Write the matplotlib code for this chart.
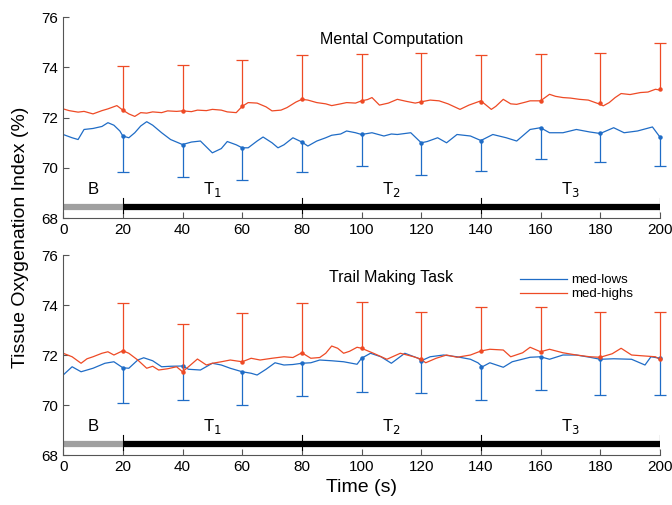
import numpy as np
import matplotlib
matplotlib.use('Agg')
import matplotlib.pyplot as plt

plt.rcParams['font.family'] = ['Liberation Sans', 'DejaVu Sans']

# ---- data ----
# error bar sample times
t_err = [20, 40, 60, 80, 100, 120, 140, 160, 180, 200]

# Mental Computation
mc_high_mean = [72.30, 72.27, 72.45, 72.73, 72.67, 72.63, 72.63, 72.67, 72.57, 73.13]
mc_high_top = [74.04, 74.08, 74.29, 74.51, 74.53, 74.57, 74.49, 74.53, 74.57, 74.96]
mc_low_mean = [71.27, 70.93, 70.80, 71.03, 71.33, 71.00, 71.09, 71.60, 71.37, 71.23]
mc_low_bot = [69.84, 69.63, 69.52, 69.84, 70.07, 69.70, 69.86, 70.36, 70.23, 70.07]

mc_high_t = [0, 2, 5, 7, 10, 13, 15, 18, 20, 22, 24, 26, 28, 30, 33, 35, 38, 40, 43, 45,
             48, 50, 53, 55, 58, 60, 62, 65, 68, 70, 73, 75, 78, 80, 82, 85, 88, 90, 93, 95,
             98, 100, 102, 103.5, 106, 109, 112, 115, 118, 120, 123, 126, 129, 133, 136, 140,
             143.5, 145, 147.5, 150, 152, 155, 156.5, 160, 163, 165, 167.5, 170, 173, 176, 180,
             181, 183, 185, 187, 190, 193.5, 196, 198.5, 200]
mc_high_v = [72.35, 72.28, 72.22, 72.25, 72.15, 72.28, 72.35, 72.48, 72.30, 72.15, 72.05, 72.20,
             72.18, 72.23, 72.20, 72.27, 72.25, 72.27, 72.24, 72.30, 72.28, 72.33, 72.30, 72.23,
             72.20, 72.45, 72.60, 72.58, 72.43, 72.27, 72.30, 72.40, 72.62, 72.73, 72.70, 72.60,
             72.55, 72.48, 72.55, 72.60, 72.58, 72.67, 72.72, 72.80, 72.50, 72.58, 72.73, 72.65,
             72.58, 72.63, 72.70, 72.67, 72.55, 72.33, 72.50, 72.67, 72.33, 72.45, 72.73, 72.55,
             72.53, 72.62, 72.67, 72.67, 72.93, 72.85, 72.80, 72.78, 72.73, 72.70, 72.53, 72.47,
             72.60, 72.80, 72.96, 72.92, 73.00, 73.02, 73.13, 73.10]

mc_low_t = [0, 3, 5, 7, 10, 13, 15, 17, 19, 20, 22, 24, 26, 28, 30, 33, 36, 40, 43, 46, 50,
            53, 55, 58, 60, 62, 65, 67, 70, 72, 74, 77, 80, 82, 85, 88, 90, 93, 95, 98, 100,
            103.5, 107.5, 110, 112, 116.5, 120, 122, 125.5, 128.5, 132, 136.5, 140, 144, 148.5,
            152, 156.5, 160, 163, 167.5, 172, 176.5, 180, 184.5, 188, 192.5, 197.5, 200]
mc_low_v = [71.33, 71.20, 71.13, 71.53, 71.57, 71.65, 71.80, 71.70, 71.47, 71.27, 71.20, 71.40,
            71.67, 71.84, 71.70, 71.40, 71.13, 70.93, 71.03, 71.07, 70.60, 70.77, 71.05, 70.92,
            70.80, 70.80, 71.07, 71.23, 71.00, 70.80, 70.92, 71.20, 71.03, 70.87, 71.07, 71.20,
            71.30, 71.35, 71.47, 71.40, 71.33, 71.40, 71.27, 71.35, 71.33, 71.40, 71.00, 71.05,
            71.20, 71.00, 71.33, 71.27, 71.09, 71.33, 71.20, 71.07, 71.53, 71.60, 71.40, 71.40,
            71.53, 71.43, 71.37, 71.60, 71.40, 71.47, 71.63, 71.23]

# Trail Making Task
tm_high_mean = [72.17, 71.33, 71.73, 72.09, 72.27, 71.83, 72.16, 72.13, 71.91, 71.83]
tm_high_top = [74.07, 73.23, 73.67, 74.07, 74.12, 73.73, 73.93, 73.93, 73.73, 73.71]
tm_low_mean = [71.49, 71.56, 71.33, 71.67, 71.87, 71.77, 71.53, 71.93, 71.83, 71.87]
tm_low_bot = [70.09, 70.20, 70.00, 70.36, 70.53, 70.47, 70.20, 70.60, 70.39, 70.41]

tm_high_t = [0, 3, 6, 8, 10, 13, 15, 17, 20, 22, 25, 28, 30, 32, 35, 38, 40, 42, 45, 48, 50,
             53, 56, 60, 63, 66, 70, 74, 77, 80, 83, 86, 88, 90, 92, 94, 96, 98.5, 100, 104,
             108.5, 113, 117.5, 120, 121.5, 125, 128.5, 132, 136.5, 140, 143, 147.5, 150, 154,
             156.5, 160, 163, 167.5, 172, 176.5, 180, 184, 187, 190.5, 195, 198.5, 200]
tm_high_v = [72.07, 71.93, 71.67, 71.85, 71.93, 72.07, 72.13, 72.00, 72.17, 72.07, 71.80, 71.47,
             71.55, 71.40, 71.45, 71.53, 71.33, 71.53, 71.84, 71.60, 71.67, 71.73, 71.80, 71.73,
             71.87, 71.80, 71.87, 71.93, 71.90, 72.09, 71.87, 71.90, 72.07, 72.36, 72.27, 72.07,
             72.15, 72.31, 72.27, 72.07, 71.83, 72.07, 71.93, 71.83, 71.69, 71.87, 72.00, 71.91,
             72.00, 72.16, 72.23, 72.20, 71.93, 72.09, 72.31, 72.13, 72.23, 72.09, 72.00, 71.93,
             71.91, 72.05, 72.27, 72.00, 71.96, 71.93, 71.83]

tm_low_t = [0, 3, 6, 10, 14, 17, 20, 22, 25, 27, 30, 33, 36, 40, 42, 46, 50, 53, 56, 60, 63,
            65, 68, 71, 74, 77, 80, 83, 86, 90, 94, 98.5, 100, 103, 106.5, 110, 114.5, 119, 120,
            123, 127.5, 132, 136.5, 139, 140.5, 143, 147.5, 150.5, 156.5, 160, 163, 167.5, 172,
            176.5, 180, 184.5, 190.5, 195, 197, 200]
tm_low_v = [71.20, 71.53, 71.33, 71.47, 71.67, 71.73, 71.49, 71.47, 71.80, 71.89, 71.77, 71.53,
            71.55, 71.56, 71.43, 71.40, 71.67, 71.60, 71.47, 71.33, 71.27, 71.20, 71.43, 71.69,
            71.60, 71.62, 71.67, 71.69, 71.80, 71.77, 71.73, 71.63, 71.87, 72.07, 71.93, 71.67,
            72.07, 71.87, 71.77, 71.93, 72.00, 71.93, 71.83, 71.69, 71.53, 71.69, 71.51, 71.73,
            71.91, 71.93, 71.83, 72.00, 72.00, 71.91, 71.83, 71.85, 71.83, 71.60, 71.93, 71.87]

phase_edges = [0, 20, 80, 140, 200]
phase_labels = ['B', r'T$_1$', r'T$_2$', r'T$_3$']

blue = '#1f6cc6'
red = '#ee4a25'

fig = plt.figure(figsize=(6.72, 5.05), dpi=100)
ax_top = fig.add_axes([0.094, 0.568, 0.888, 0.398])
ax_bot = fig.add_axes([0.094, 0.099, 0.888, 0.396])


def one_sided_bars(ax, mean, end, color):
    # vertical bar from mean to end, cap only at the far end, dot at the mean
    ax.vlines(t_err, mean, end, color=color, lw=0.9, clip_on=False)
    ax.plot(t_err, end, ls='none', marker='_', ms=9, mew=0.9, color=color, clip_on=False)
    ax.plot(t_err, mean, ls='none', marker='o', ms=2.2, color=color, clip_on=False)


def draw_panel(ax, title, lt, lv, ht, hv, lmean, lbot, hmean, htop, legend=False):
    ax.plot(lt, lv, color=blue, lw=0.9, label='med-lows')
    ax.plot(ht, hv, color=red, lw=0.9, label='med-highs')
    one_sided_bars(ax, lmean, lbot, blue)
    one_sided_bars(ax, hmean, htop, red)
    # phase bar
    ax.plot([0, 20], [68.45, 68.45], color='#a0a0a0', lw=4.5, solid_capstyle='butt')
    ax.plot([20, 200], [68.45, 68.45], color='black', lw=4.5, solid_capstyle='butt')
    for e in phase_edges[1:]:
        ax.plot([e, e], [68.2, 68.8], color='black', lw=0.8)
    for i, lab in enumerate(phase_labels):
        mid = (phase_edges[i] + phase_edges[i + 1]) / 2
        ax.text(mid, 69.15, lab, ha='center', va='center', fontsize=12)
    ax.text(110, 75.1, title, ha='center', va='center', fontsize=11.5)
    ax.set_xlim(0, 200)
    ax.set_ylim(68, 76)
    ax.set_xticks(range(0, 201, 20))
    ax.set_yticks([68, 70, 72, 74, 76])
    ax.tick_params(direction='in', length=4, labelsize=11, color='#555555')
    for s in ['top', 'right']:
        ax.spines[s].set_visible(False)
    for s in ['left', 'bottom']:
        ax.spines[s].set_color('#555555')
    if legend:
        ax.legend(loc='upper right', bbox_to_anchor=(0.975, 0.965), frameon=False, fontsize=9.5,
                  handlelength=3.6, handletextpad=0.3, labelspacing=0.15)


draw_panel(ax_top, 'Mental Computation', mc_low_t, mc_low_v, mc_high_t, mc_high_v,
           mc_low_mean, mc_low_bot, mc_high_mean, mc_high_top)
draw_panel(ax_bot, 'Trail Making Task', tm_low_t, tm_low_v, tm_high_t, tm_high_v,
           tm_low_mean, tm_low_bot, tm_high_mean, tm_high_top, legend=True)

ax_bot.set_xlabel('Time (s)', fontsize=14, labelpad=4)
fig.text(0.03, 0.53, 'Tissue Oxygenation Index (%)', rotation=90, ha='center', va='center',
         fontsize=14)

fig.savefig('out.png', dpi=100)
